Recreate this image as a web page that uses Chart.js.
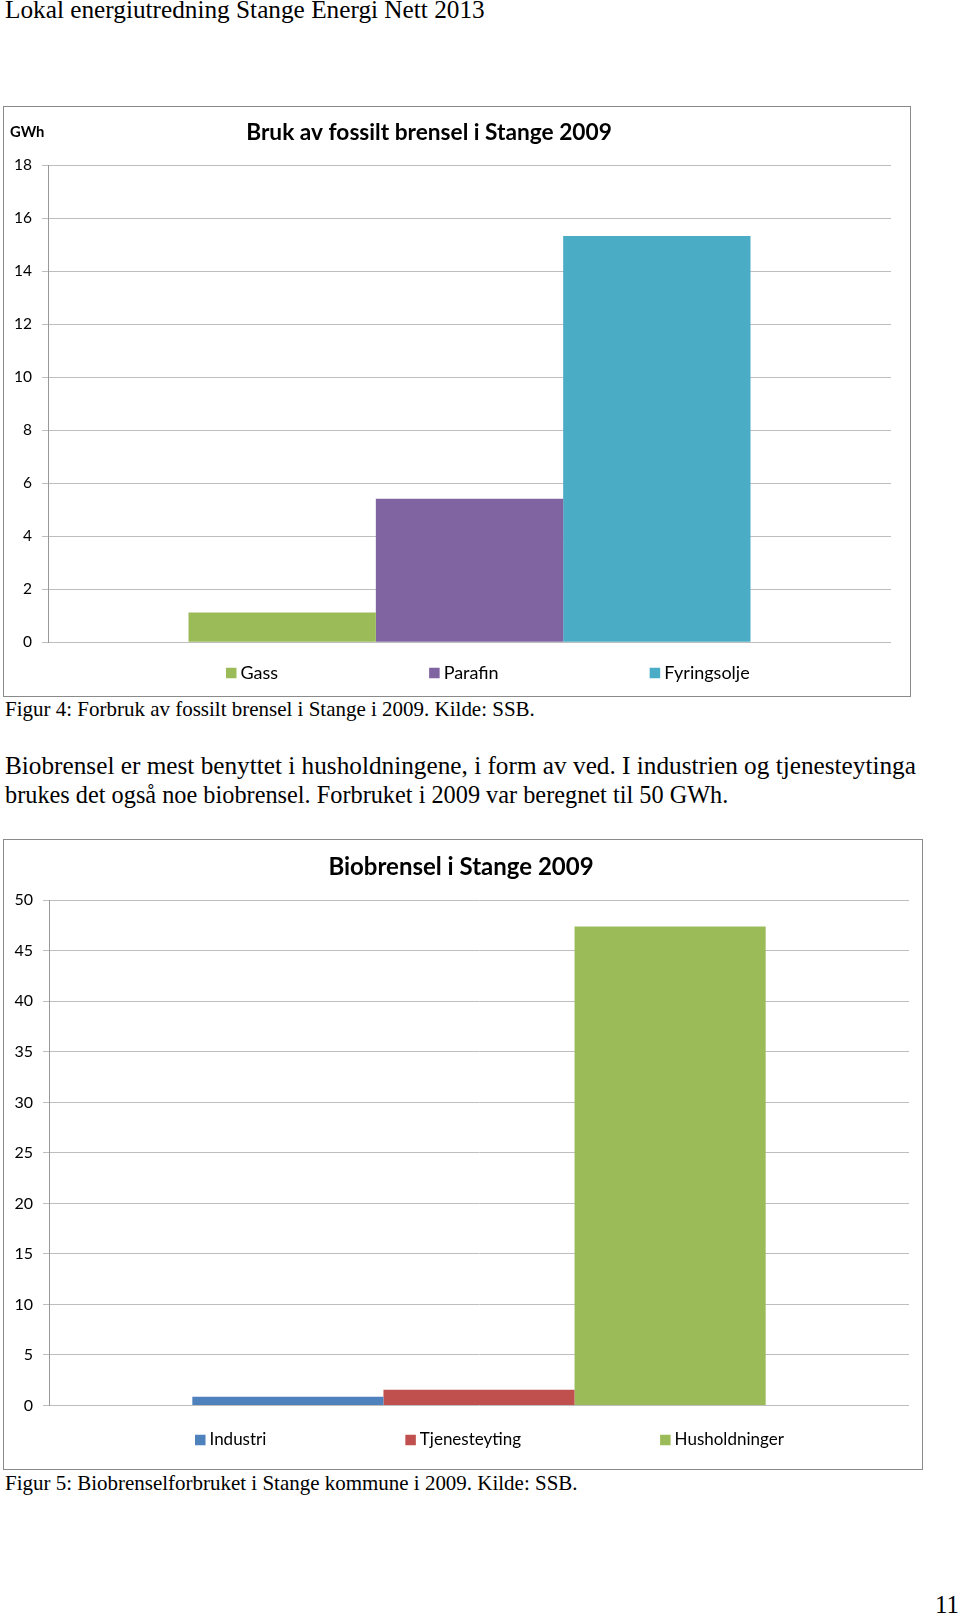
<!DOCTYPE html>
<html>
<head>
<meta charset="utf-8">
<script src="https://cdn.jsdelivr.net/npm/chart.js@4.4.1/dist/chart.umd.min.js"></script>
<style>
  html, body { margin: 0; padding: 0; background: #fff; }
  body { width: 960px; height: 1616px; position: relative; overflow: hidden;
         font-family: "Liberation Serif", "Times New Roman", serif; color: #000; }
  .txt { position: absolute; white-space: nowrap; line-height: 1; }
  .frame { position: absolute; border: 1px solid #8a8a8a; box-sizing: border-box; }
  .chartbox { position: absolute; }
</style>
</head>
<body>
<div class="txt" style="left:5px;font-size:21px" data-w="480" data-cy="10">Lokal energiutredning Stange Energi Nett 2013</div>

<div class="frame" style="left:3px;top:106px;width:908px;height:591px"></div>
<div class="chartbox" style="left:-40px;top:107px;width:931px;height:589px"><canvas id="fossilChart"></canvas></div>

<div class="txt" style="left:5px;font-size:18px" data-w="530" data-cy="710">Figur 4: Forbruk av fossilt brensel i Stange i 2009. Kilde: SSB.</div>
<div class="txt" style="left:5px;font-size:21px" data-w="911" data-cy="766">Biobrensel er mest benyttet i husholdningene, i form av ved. I industrien og tjenesteytinga</div>
<div class="txt" style="left:5px;font-size:21px" data-w="724" data-cy="795">brukes det også noe biobrensel. Forbruket i 2009 var beregnet til 50 GWh.</div>

<div class="frame" style="left:3px;top:839px;width:920px;height:631px"></div>
<div class="chartbox" style="left:0px;top:840px;width:909px;height:629px"><canvas id="bioChart"></canvas></div>

<div class="txt" style="left:5px;font-size:18px" data-w="573" data-cy="1484">Figur 5: Biobrenselforbruket i Stange kommune i 2009. Kilde: SSB.</div>
<div class="txt" style="left:935px;font-size:21px" data-w="24" data-cy="1606">11</div>

<script>
// Figur 4 - fossilt brensel (GWh)
const fossilLabels = ["Gass", "Parafin", "Fyringsolje"];
const fossilValues = [1.12, 5.42, 15.33];
const fossilColors = ["#9bbb59", "#8064a2", "#4bacc6"];
const fossilTicks = [0, 2, 4, 6, 8, 10, 12, 14, 16, 18];

// Figur 5 - biobrensel (GWh)
const bioLabels = ["Industri", "Tjenesteyting", "Husholdninger"];
const bioValues = [0.87, 1.56, 47.4];
const bioColors = ["#4f81bd", "#c0504d", "#9bbb59"];
const bioTicks = [0, 5, 10, 15, 20, 25, 30, 35, 40, 45, 50];

// tilpass tekststørrelse til bredden i originalen
document.querySelectorAll(".txt").forEach(function (el) {
    let fs = parseFloat(el.style.fontSize);
    const w = el.getBoundingClientRect().width;
    fs = fs * (+el.dataset.w) / w;
    el.style.fontSize = fs + "px";
    el.style.top = (+el.dataset.cy - 0.51 * fs) + "px";
});

const FONT = "Lato, Carlito, Calibri, sans-serif";

// legende på én rad under plottet, som i Excel
const rowLegend = {
    id: "rowLegend",
    afterDraw(chart, args, opts) {
        const ctx = chart.ctx;
        const area = chart.chartArea;
        ctx.save();
        ctx.font = opts.size + "px " + FONT;
        ctx.textBaseline = "middle";
        let x = area.left + opts.startX;
        const y = area.bottom + opts.offsetY;
        chart.data.datasets.forEach(function (ds) {
            ctx.fillStyle = ds.backgroundColor;
            ctx.fillRect(x, y - opts.box / 2, opts.box, opts.box);
            ctx.fillStyle = "#000";
            ctx.fillText(ds.label, x + opts.box + opts.textGap, y);
            x += opts.box + opts.textGap + ctx.measureText(ds.label).width + opts.gap;
        });
        ctx.restore();
    }
};

// enhet øverst til venstre
const unitLabel = {
    id: "unitLabel",
    afterDraw(chart, args, opts) {
        if (!opts.text) return;
        const ctx = chart.ctx;
        ctx.save();
        ctx.font = "bold 14.8px " + FONT;
        ctx.fillStyle = "#000";
        ctx.textBaseline = "middle";
        ctx.fillText(opts.text, chart.chartArea.left + opts.dx, chart.chartArea.top + opts.dy);
        ctx.restore();
    }
};

function makeChart(id, cfg) {
    const datasets = cfg.labels.map(function (label, i) {
        return {
            label: label,
            data: [cfg.values[i]],
            backgroundColor: cfg.colors[i],
            borderWidth: 0,
            categoryPercentage: 2 / 3,
            barPercentage: 1
        };
    });
    return new Chart(document.getElementById(id), {
        type: "bar",
        data: { labels: [""], datasets: datasets },
        options: {
            responsive: true,
            maintainAspectRatio: false,
            animation: false,
            layout: { padding: cfg.padding },
            plugins: {
                legend: { display: false },
                tooltip: { enabled: false },
                title: {
                    display: true,
                    text: cfg.title,
                    color: "#000",
                    font: { family: FONT, size: cfg.titleSize, weight: "bold" },
                    padding: cfg.titlePadding
                },
                rowLegend: cfg.legend,
                unitLabel: cfg.unit
            },
            scales: {
                x: { display: false },
                y: {
                    min: cfg.ticks[0],
                    max: cfg.ticks[cfg.ticks.length - 1],
                    afterBuildTicks: function (scale) {
                        scale.ticks = cfg.ticks.map(function (v) { return { value: v }; });
                    },
                    afterFit: function (scale) { scale.width = cfg.axisWidth; },
                    ticks: { padding: 10, color: "#000", font: { family: FONT, size: cfg.tickSize } },
                    grid: { color: "#bebebe", tickLength: 6, lineWidth: 1 },
                    border: { color: "#989898" }
                }
            }
        },
        plugins: [rowLegend, unitLabel]
    });
}

makeChart("fossilChart", {
    title: "Bruk av fossilt brensel i Stange 2009",
    labels: fossilLabels, values: fossilValues, colors: fossilColors, ticks: fossilTicks,
    padding: { left: 7, right: 0, top: 0, bottom: 53.7 },
    titleSize: 22.7,
    titlePadding: { top: 12.4, bottom: 18.7 },
    tickSize: 15.5,
    axisWidth: 81,
    legend: { startX: 178, offsetY: 30.7, box: 10.5, textGap: 4, gap: 151, size: 18 },
    unit: { text: "GWh", dx: -38, dy: -33 }
});

makeChart("bioChart", {
    title: "Biobrensel i Stange 2009",
    labels: bioLabels, values: bioValues, colors: bioColors, ticks: bioTicks,
    padding: { left: 13, right: 0, top: 0, bottom: 63.5 },
    titleSize: 24,
    titlePadding: { top: 12.6, bottom: 18.9 },
    tickSize: 16,
    axisWidth: 36,
    legend: { startX: 146, offsetY: 34.5, box: 10.5, textGap: 4, gap: 139, size: 17 },
    unit: {}
});
</script>
</body>
</html>
